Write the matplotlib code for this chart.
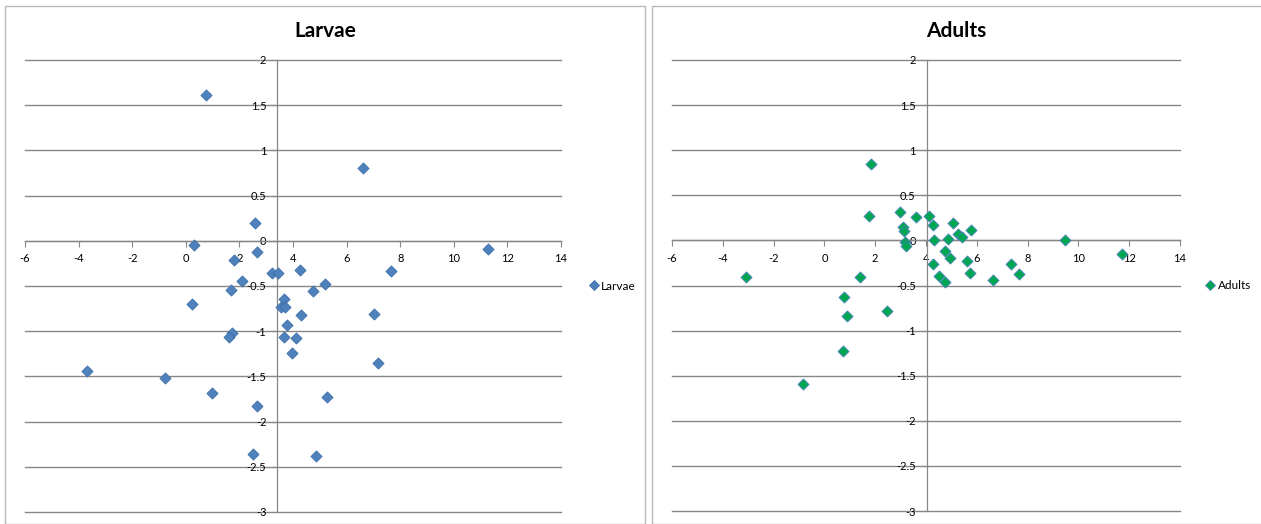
import matplotlib
matplotlib.use('Agg')
import matplotlib.pyplot as plt
from matplotlib.patches import Rectangle
from matplotlib.lines import Line2D

plt.rcParams['font.family'] = ['Lato', 'DejaVu Sans']

# Larvae scores
larvae_x = [0.77, 6.62, 2.58, 0.32, 11.28, 2.64, 1.81, 3.22, 3.43, 4.26,
            7.64, 2.08, 5.20, 1.68, 4.76, 3.68, 0.22, 3.55, 3.71, 4.31,
            7.01, 3.79, 1.71, 1.63, 3.66, 4.10, 3.98, 7.17, -3.69, -0.77,
            0.96, 5.25, 2.64, 2.52, 4.87]
larvae_y = [1.61, 0.81, 0.20, -0.05, -0.09, -0.12, -0.21, -0.36, -0.36, -0.32,
            -0.33, -0.45, -0.48, -0.54, -0.56, -0.64, -0.70, -0.73, -0.73, -0.82,
            -0.81, -0.93, -1.02, -1.06, -1.06, -1.07, -1.24, -1.35, -1.44, -1.52,
            -1.68, -1.73, -1.83, -2.36, -2.38]

# Adult scores
adults_x = [1.83, 1.74, 2.99, 3.61, 4.11, 3.10, 3.14, 4.26, 5.06, 5.26,
            5.40, 5.76, 3.19, 3.22, 4.30, 4.86, 9.48, 11.73, 4.73, 4.95,
            5.60, 4.26, 7.36, -3.09, 1.40, 4.53, 4.76, 5.73, 7.66, 6.62,
            0.76, 0.88, 2.46, 0.73, -0.83]
adults_y = [0.85, 0.27, 0.31, 0.26, 0.27, 0.15, 0.10, 0.17, 0.19, 0.07,
            0.04, 0.11, -0.02, -0.06, 0.00, 0.01, 0.00, -0.15, -0.12, -0.19,
            -0.23, -0.26, -0.26, -0.41, -0.41, -0.40, -0.46, -0.36, -0.37, -0.44,
            -0.63, -0.84, -0.78, -1.23, -1.59]

x_ticks = [-6, -4, -2, 0, 2, 4, 6, 8, 10, 12, 14]
y_ticks = [-3, -2.5, -2, -1.5, -1, -0.5, 0, 0.5, 1, 1.5, 2]

GRID = '#878787'
W, H = 1261, 524

fig = plt.figure(figsize=(W / 100, H / 100), dpi=100)


def px_box(x0, x1, y_top, y_bot):
    return [x0 / W, 1 - y_bot / H, (x1 - x0) / W, (y_bot - y_top) / H]


def scatter_panel(rect, xs, ys, name, face, edge, y_cross, title, title_x, panel, leg_x):
    # outer chart frame
    fig.add_artist(Rectangle((panel[0] / W, 1 - panel[3] / H),
                             (panel[1] - panel[0]) / W, (panel[3] - panel[2]) / H,
                             transform=fig.transFigure, fill=False,
                             edgecolor='#b8b8b8', linewidth=1.0))
    fig.text(title_x / W, 1 - 31 / H, title, ha='center', va='center',
             fontsize=15, fontweight='bold')

    ax = fig.add_axes(rect)
    ax.set_facecolor('none')
    ax.set_xlim(-6, 14)
    ax.set_ylim(-3, 2)
    ax.set_xticks(x_ticks)
    ax.set_yticks(y_ticks)
    ax.set_xticklabels([f'{v:g}' for v in x_ticks])
    ax.set_yticklabels([f'{v:g}' for v in y_ticks])

    for s in ['top', 'right']:
        ax.spines[s].set_visible(False)
    ax.spines['left'].set_position(('data', y_cross))
    ax.spines['bottom'].set_position(('data', 0))
    for s in ['left', 'bottom']:
        ax.spines[s].set_color(GRID)
        ax.spines[s].set_linewidth(0.9)

    ax.yaxis.grid(True, color=GRID, linewidth=1.0)
    for gl in ax.get_ygridlines():
        gl.set_clip_on(False)
    ax.set_axisbelow(True)

    ax.tick_params(axis='both', colors=GRID, labelcolor='black',
                   labelsize=8, length=4, width=0.8, direction='out')
    ax.tick_params(axis='x', pad=5)
    ax.tick_params(axis='y', pad=4)

    ax.scatter(xs, ys, marker='D', s=32, color=face, edgecolors=edge,
               linewidths=0.6, zorder=3, clip_on=False)

    handle = Line2D([], [], linestyle='none', marker='D', markersize=5.5,
                    markerfacecolor=face, markeredgecolor=edge, markeredgewidth=0.6)
    ax.legend([handle], [name], loc='center left', bbox_to_anchor=(leg_x, 0.5),
              frameon=False, fontsize=8.5, handlelength=0.8, handletextpad=0.25,
              borderaxespad=0, borderpad=0)
    return ax


scatter_panel(px_box(25, 561, 60, 512), larvae_x, larvae_y, 'Larvae',
              '#4f81bd', '#3f6ea8', 3.42, 'Larvae', 325, (5, 645, 6, 524), 1.052)
scatter_panel(px_box(672, 1180, 60, 511), adults_x, adults_y, 'Adults',
              '#00a651', '#4f81bd', 4.03, 'Adults', 956, (652, 1262, 6, 524), 1.050)

fig.savefig('out.png', dpi=100, facecolor='white')
